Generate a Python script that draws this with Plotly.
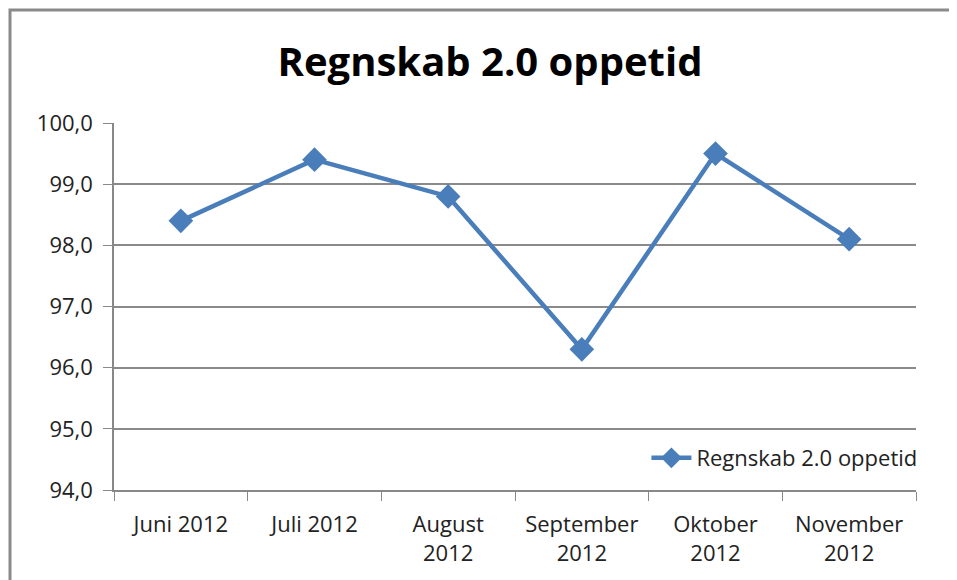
import plotly.graph_objects as go

categories = ["Juni 2012", "Juli 2012", "August<br>2012", "September<br>2012", "Oktober<br>2012", "November<br>2012"]
values = [98.4, 99.4, 98.8, 96.3, 99.5, 98.1]
y_ticks = [94, 95, 96, 97, 98, 99, 100]
y_tick_labels = ["94,0", "95,0", "96,0", "97,0", "98,0", "99,0", "100,0"]
series_name = "Regnskab 2.0 oppetid"
title_text = "Regnskab 2.0 oppetid"

# page body has an 8px margin; figure sized to fill the 957x580 window
OFF = 8
W, H = 957 - OFF, 580 - OFF
L, T = 114 - OFF, 123 - OFF
R = W - (916 - OFF)
B = H - (490 - OFF)
pw, ph = W - L - R, H - T - B

blue = "#4A7EBB"
font = "Open Sans"
fs = 22

fig = go.Figure()
fig.add_trace(go.Scatter(
    x=categories, y=values, mode="lines+markers", name=series_name,
    line=dict(color=blue, width=4.5),
    marker=dict(symbol="diamond", size=19, color=blue),
))

fig.update_layout(
    width=W, height=H,
    margin=dict(l=L, r=R, t=T, b=B),
    paper_bgcolor="white", plot_bgcolor="white",
    font=dict(family=font, color="#222"),
    title=dict(text="<b>" + title_text + "</b>", x=(490 - OFF) / W, xanchor="center",
               y=1 - (62 - OFF) / H, yanchor="middle",
               font=dict(size=40, family=font, color="black")),
    showlegend=True,
    legend=dict(x=1.008, xanchor="right", y=0.087, yanchor="middle",
                bgcolor="rgba(0,0,0,0)", font=dict(size=fs, family=font, color="#222"),
                itemwidth=40),
    xaxis=dict(type="category", range=[-0.5, 5.5], showgrid=False,
               showline=True, linecolor="#888", linewidth=1.5,
               ticks="outside", tickson="boundaries", ticklen=9, tickcolor="#888",
               ticklabelstandoff=14,
               tickfont=dict(size=fs, family=font, color="#222")),
    yaxis=dict(range=[94, 100], tickvals=y_ticks, ticktext=y_tick_labels,
               showgrid=True, gridcolor="#8a8a8a", gridwidth=1.5,
               showline=True, linecolor="#888", linewidth=1.5,
               ticks="outside", ticklen=9, tickcolor="#888",
               ticklabelstandoff=6,
               tickfont=dict(size=fs, family=font, color="#222"), zeroline=False),
)

# chart border (extends past right and bottom edges as in the reference)
fig.add_shape(type="rect", xref="paper", yref="paper",
              x0=(10 - OFF - L) / pw, x1=(W + 20 - L) / pw,
              y0=-(H + 20 - T - ph) / ph, y1=(ph + T - (10 - OFF)) / ph,
              line=dict(color="#8a8a8a", width=3), fillcolor="rgba(0,0,0,0)", layer="below")

fig.write_html("out.html")
